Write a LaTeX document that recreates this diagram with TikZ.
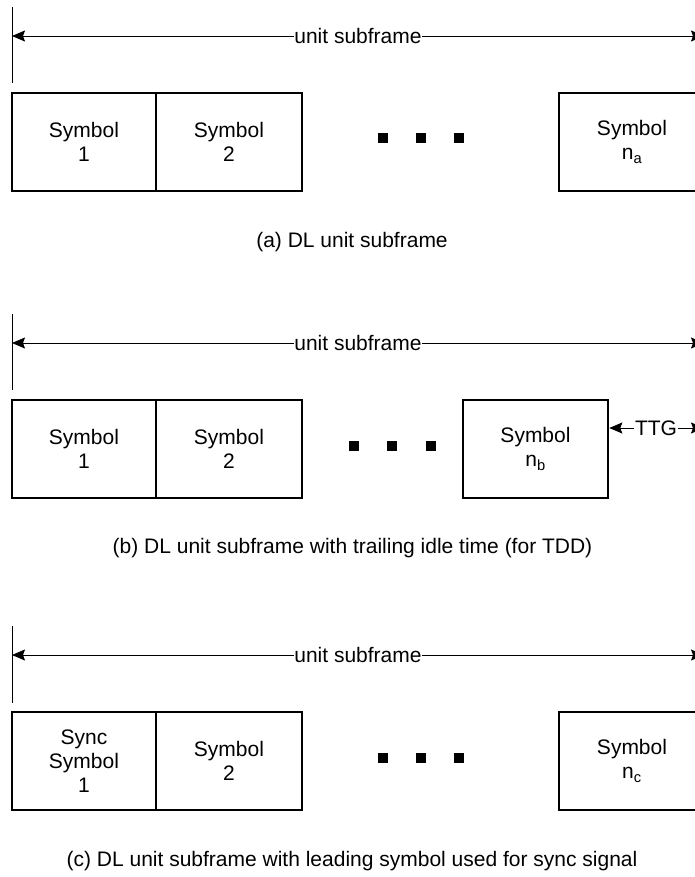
\documentclass[tikz,border=0pt]{standalone}
\usepackage{fontspec}
\setmainfont{Liberation Sans}
\usetikzlibrary{arrows.meta}

\tikzset{
  symbox/.style={draw, line width=2.6pt, minimum height=98pt, inner sep=0pt,
                 align=center, font=\fontsize{21}{24}\selectfont},
  dimline/.style={line width=0.8pt},
  dimarrow/.style={dimline, -{Stealth[length=13pt,width=11pt,inset=2pt]}},
  dimlabel/.style={fill=white, inner sep=0.6pt, font=\fontsize{21}{24}\selectfont},
  dotmark/.style={fill=black, minimum size=10pt, inner sep=0pt},
  caption/.style={font=\fontsize{21}{24}\selectfont},
  tick/.style={line width=0.8pt}
}

\begin{document}
\begin{tikzpicture}[x=1pt, y=-1pt]
\useasboundingbox (0,0) rectangle (695,877);
\clip (0,0) rectangle (695,877);

% ---------- (a) DL unit subframe ----------
\draw[tick] (12,7) -- (12,83);
\coordinate (aL) at (12,36);
\coordinate (aR) at (704,36);
\node[dimlabel] (alab) at (358,36) {unit subframe};
\draw[dimarrow] (alab.west) -- (aL);
\draw[dimarrow] (alab.east) -- (aR);
\node[symbox, minimum width=144pt] (a1) at (84,142) {Symbol\\1};
\node[symbox, minimum width=146pt] (a2) at (229,142) {Symbol\\2};
\node[symbox, minimum width=146pt] (a3) at (632,142) {Symbol\\n\textsubscript{a}};
\node[dotmark] (ad1) at (383,138) {};
\node[dotmark] (ad2) at (421,138) {};
\node[dotmark] (ad3) at (459,138) {};
\node[caption] (acap) at (352,242) {(a) DL unit subframe};

% ---------- (b) trailing idle time ----------
\begin{scope}[shift={(0,307)}]
\draw[tick] (12,7) -- (12,83);
\coordinate (bL) at (12,36);
\coordinate (bR) at (704,36);
\node[dimlabel] (blab) at (358,36) {unit subframe};
\draw[dimarrow] (blab.west) -- (bL);
\draw[dimarrow] (blab.east) -- (bR);
\node[symbox, minimum width=144pt] (b1) at (84,142) {Symbol\\1};
\node[symbox, minimum width=146pt] (b2) at (229,142) {Symbol\\2};
\node[symbox, minimum width=145pt] (b3) at (535.5,142) {Symbol\\n\textsubscript{b}};
\node[dotmark] (bd1) at (354,139) {};
\node[dotmark] (bd2) at (392,139) {};
\node[dotmark] (bd3) at (431,139) {};
\coordinate (ttgR) at (704,121);
\node[dimlabel] (ttg) at (656,121) {TTG};
\draw[dimarrow] (ttg.west) -- (b3.east |- ttg.west);
\draw[dimarrow] (ttg.east) -- (ttgR);
\node[caption] (bcap) at (352.5,241) {(b) DL unit subframe with trailing idle time (for TDD)};
\end{scope}

% ---------- (c) leading sync symbol ----------
\begin{scope}[shift={(0,619)}]
\draw[tick] (12,7) -- (12,84);
\coordinate (cL) at (12,36);
\coordinate (cR) at (704,36);
\node[dimlabel] (clab) at (358,36) {unit subframe};
\draw[dimarrow] (clab.west) -- (cL);
\draw[dimarrow] (clab.east) -- (cR);
\node[symbox, minimum width=144pt] (c1) at (84,142) {Sync\\Symbol\\1};
\node[symbox, minimum width=146pt] (c2) at (229,142) {Symbol\\2};
\node[symbox, minimum width=146pt] (c3) at (632,142) {Symbol\\n\textsubscript{c}};
\node[dotmark] (cd1) at (383,139) {};
\node[dotmark] (cd2) at (421,139) {};
\node[dotmark] (cd3) at (459,139) {};
\node[caption] (ccap) at (352,242) {(c) DL unit subframe with leading symbol used for sync signal};
\end{scope}
\end{tikzpicture}
\end{document}
